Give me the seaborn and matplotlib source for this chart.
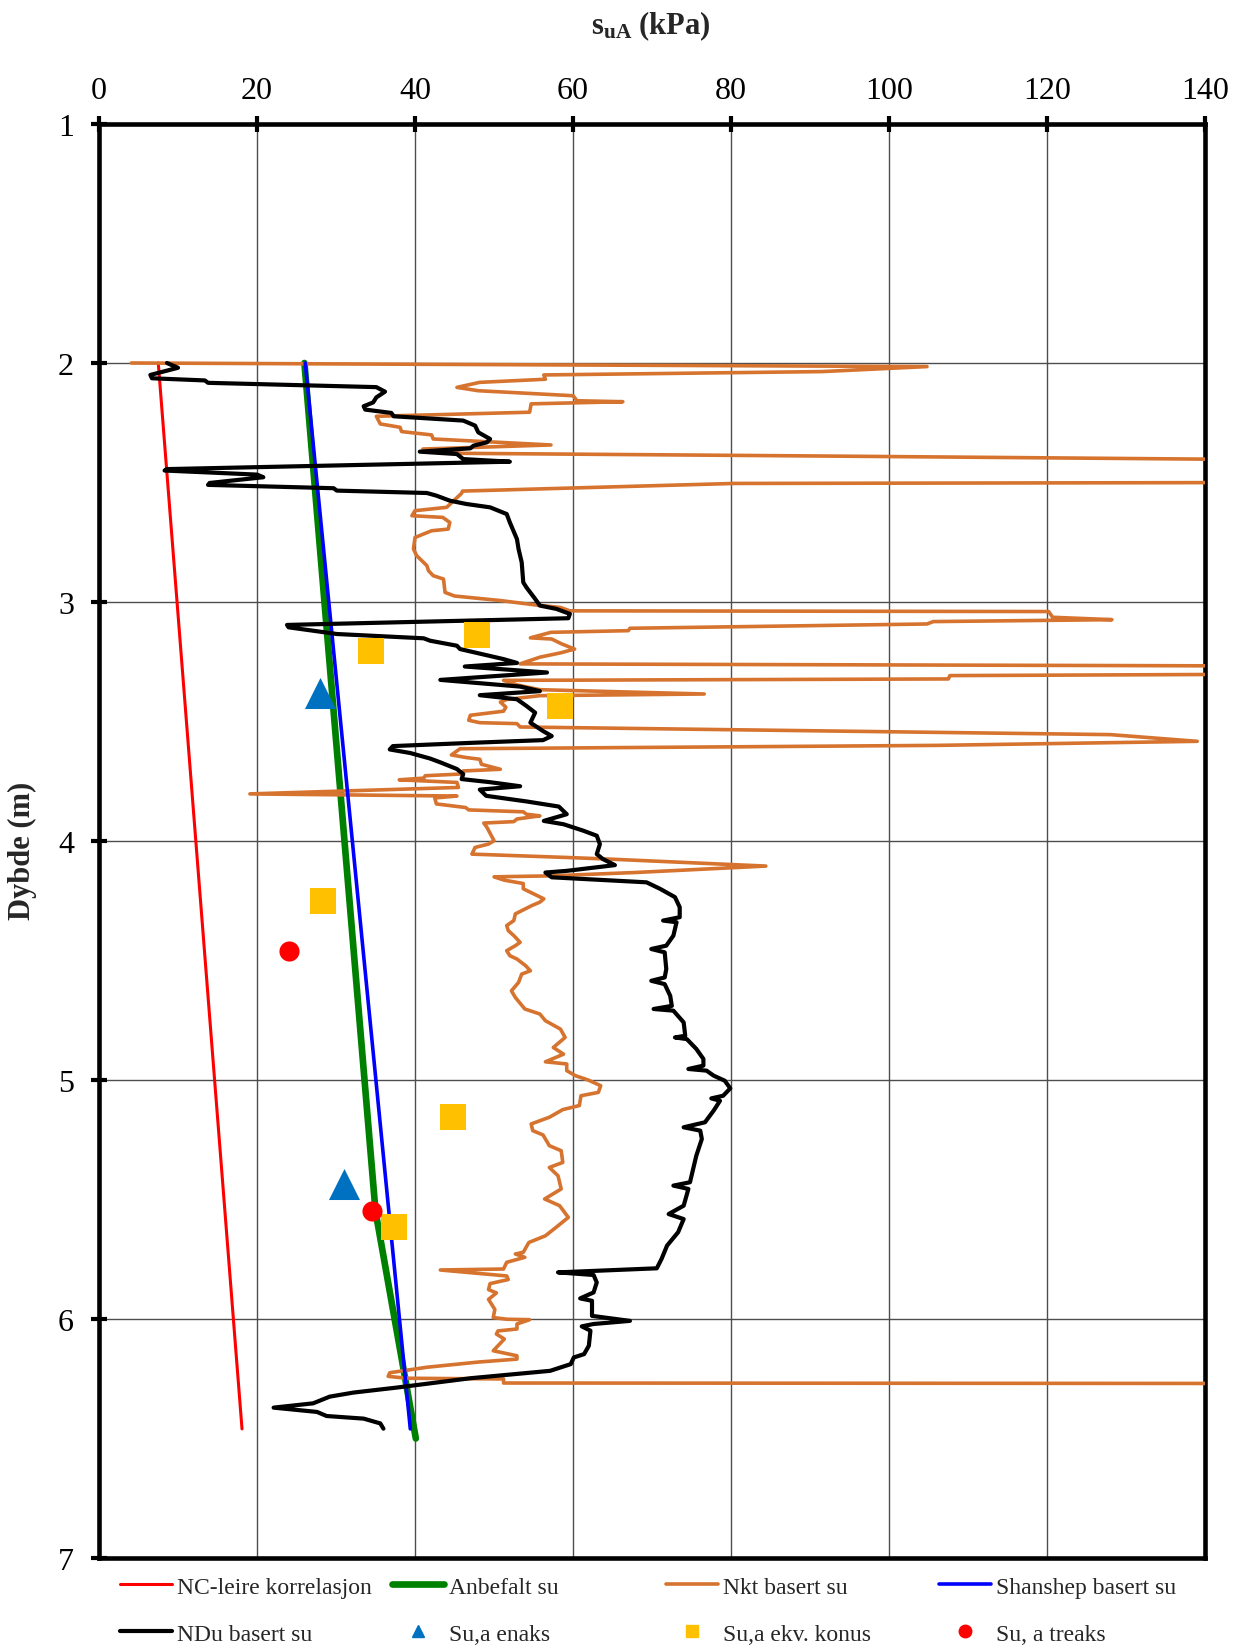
import matplotlib
matplotlib.use("Agg")
import matplotlib.pyplot as plt
import seaborn as sns
import pandas as pd
from matplotlib.lines import Line2D

# NDu basert su (black CPTU profile): su in kPa, depth in m
ndu_su = [8.6, 10.0, 6.5, 6.7, 13.4, 13.8, 35.1, 36.2, 35.1, 34.7, 33.5, 33.7, 37.0, 37.3,
          46.1, 47.6, 48.0, 49.5, 49.1, 47.4, 47.0, 40.6, 45.3, 46.1, 52.0, 8.6, 8.3, 20.0,
          20.8, 14.0, 13.8, 29.7, 30.1, 41.5, 42.7, 44.4, 46.5, 49.5, 51.6, 52.0, 52.9, 53.1,
          53.5, 53.7, 54.1, 55.2, 55.8, 57.9, 59.6, 59.4, 23.8, 24.0, 30.1, 41.1, 41.9, 45.3,
          45.7, 51.2, 52.9, 46.3, 56.7, 43.2, 53.3, 55.8, 48.2, 52.9, 54.1, 55.2, 54.6, 56.2,
          57.3, 56.2, 47.4, 37.2, 36.8, 39.4, 41.9, 43.2, 45.3, 46.1, 45.9, 49.5, 53.3, 48.2,
          49.0, 54.2, 58.2, 59.2, 56.3, 58.8, 61.3, 63.0, 63.4, 63.0, 63.8, 65.3, 59.2, 56.5,
          57.3, 69.3, 71.0, 72.9, 73.5, 73.5, 71.4, 73.1, 72.7, 71.8, 69.9, 71.6, 71.8, 71.6,
          69.9, 71.6, 72.3, 72.5, 70.2, 72.7, 74.0, 74.2, 72.9, 74.4, 75.6, 76.5, 76.5, 74.6,
          76.9, 77.8, 79.2, 79.9, 79.0, 77.5, 78.6, 77.8, 76.7, 74.0, 76.1, 76.3, 75.6, 75.2,
          74.8, 72.7, 74.6, 74.0, 72.1, 74.0, 73.3, 71.9, 71.2, 70.6, 58.1, 62.6, 63.0, 62.6,
          60.9, 62.4, 62.4, 67.2, 62.6, 61.1, 62.2, 62.0, 61.4, 60.1, 59.7, 57.1, 47.0, 42.7,
          37.7, 32.2, 29.2, 27.1, 22.1, 27.6, 28.8, 33.5, 35.6, 36.0]
ndu_depth = [2.000, 2.020, 2.050, 2.064, 2.073, 2.083, 2.101, 2.120, 2.144, 2.165, 2.181, 2.195,
             2.209, 2.223, 2.241, 2.262, 2.290, 2.318, 2.332, 2.346, 2.357, 2.371, 2.381, 2.402,
             2.413, 2.444, 2.450, 2.467, 2.478, 2.502, 2.510, 2.524, 2.534, 2.544, 2.555, 2.576,
             2.590, 2.604, 2.632, 2.667, 2.737, 2.778, 2.834, 2.918, 2.939, 2.987, 3.015, 3.029,
             3.050, 3.068, 3.096, 3.106, 3.134, 3.152, 3.162, 3.183, 3.197, 3.239, 3.255, 3.270,
             3.295, 3.326, 3.354, 3.373, 3.390, 3.407, 3.435, 3.463, 3.505, 3.540, 3.561, 3.578,
             3.589, 3.603, 3.617, 3.632, 3.655, 3.671, 3.699, 3.720, 3.741, 3.754, 3.771, 3.785,
             3.811, 3.835, 3.856, 3.888, 3.916, 3.930, 3.957, 3.978, 4.013, 4.055, 4.076, 4.101,
             4.125, 4.132, 4.152, 4.173, 4.200, 4.235, 4.277, 4.319, 4.333, 4.340, 4.396, 4.438,
             4.452, 4.466, 4.536, 4.571, 4.585, 4.599, 4.648, 4.690, 4.703, 4.710, 4.759, 4.815,
             4.822, 4.829, 4.870, 4.912, 4.940, 4.954, 4.961, 4.982, 5.003, 5.035, 5.066, 5.077,
             5.087, 5.128, 5.177, 5.198, 5.212, 5.247, 5.317, 5.372, 5.428, 5.442, 5.456, 5.526,
             5.561, 5.582, 5.637, 5.693, 5.749, 5.788, 5.805, 5.816, 5.847, 5.889, 5.914, 5.924,
             5.987, 6.008, 6.021, 6.031, 6.049, 6.112, 6.147, 6.161, 6.189, 6.217, 6.248, 6.266,
             6.287, 6.308, 6.325, 6.353, 6.371, 6.389, 6.406, 6.417, 6.437, 6.459]

# Nkt basert su (orange profile), the spikes run past the 140 kPa edge
nkt_su = [4.1, 104.8, 91.5, 56.3, 56.5, 48.2, 45.3, 48.0, 60.0, 60.5, 66.3, 54.7, 54.5, 35.1,
          35.6, 38.1, 38.3, 42.1, 42.3, 57.2, 41.0, 46.0, 94.4, 150.0, 150.0, 80.4, 46.0, 45.9,
          44.0, 40.0, 39.6, 43.5, 44.4, 44.2, 42.1, 40.0, 39.8, 40.2, 41.5, 41.7, 42.3, 43.6,
          43.8, 45.0, 50.8, 55.4, 58.4, 59.6, 120.2, 120.7, 128.2, 105.6, 104.8, 67.2, 67.0,
          57.2, 54.6, 57.3, 58.6, 60.2, 58.4, 55.8, 53.3, 150.0, 150.0, 107.7, 107.5, 51.2,
          52.9, 55.8, 76.6, 55.8, 51.6, 50.8, 51.5, 51.2, 48.7, 47.0, 46.8, 48.2, 52.9, 53.3,
          128.0, 139.0, 106.0, 45.7, 44.6, 46.5, 48.2, 48.4, 50.8, 46.1, 45.7, 41.3, 41.1, 38.0,
          45.3, 45.5, 19.1, 45.3, 42.5, 42.7, 46.4, 46.8, 53.7, 54.1, 55.8, 52.9, 52.5, 48.7,
          49.1, 50.0, 49.3, 47.6, 47.2, 59.2, 64.7, 84.4, 67.8, 57.1, 50.0, 51.3, 53.7, 53.7,
          56.3, 55.8, 54.8, 52.7, 52.5, 51.6, 51.8, 52.5, 53.3, 52.7, 51.6, 52.0, 52.9, 54.0,
          54.6, 53.5, 53.1, 52.2, 52.7, 53.9, 55.8, 56.5, 58.4, 59.0, 57.5, 58.8, 56.5, 59.2,
          59.2, 60.3, 61.9, 63.5, 63.2, 61.0, 60.8, 58.7, 57.0, 54.7, 54.9, 56.2, 57.0, 58.5,
          58.7, 57.0, 58.1, 58.5, 56.4, 58.3, 59.4, 58.1, 56.5, 54.4, 53.7, 52.7, 53.9, 51.6,
          51.2, 43.2, 51.6, 51.8, 49.5, 49.3, 50.3, 49.3, 50.1, 49.9, 51.6, 54.5, 52.9, 52.9,
          50.5, 50.3, 51.3, 49.9, 52.9, 52.9, 48.1, 41.5, 36.8, 36.6, 38.9, 51.2, 51.2, 150.0]
nkt_depth = [2.000, 2.015, 2.036, 2.050, 2.068, 2.081, 2.102, 2.116, 2.137, 2.158, 2.162, 2.171,
             2.206, 2.223, 2.255, 2.269, 2.287, 2.301, 2.318, 2.343, 2.360, 2.378, 2.390, 2.405,
             2.500, 2.504, 2.536, 2.545, 2.604, 2.618, 2.639, 2.646, 2.667, 2.695, 2.702, 2.730,
             2.778, 2.806, 2.848, 2.869, 2.890, 2.904, 2.960, 2.975, 2.994, 3.013, 3.023, 3.037,
             3.040, 3.064, 3.074, 3.082, 3.092, 3.110, 3.120, 3.127, 3.150, 3.155, 3.176, 3.197,
             3.213, 3.231, 3.259, 3.268, 3.302, 3.308, 3.322, 3.328, 3.347, 3.367, 3.385, 3.392,
             3.408, 3.419, 3.440, 3.457, 3.467, 3.474, 3.495, 3.505, 3.509, 3.523, 3.555, 3.583,
             3.600, 3.614, 3.640, 3.651, 3.658, 3.679, 3.700, 3.707, 3.720, 3.727, 3.737, 3.744,
             3.755, 3.776, 3.803, 3.812, 3.820, 3.845, 3.860, 3.870, 3.878, 3.888, 3.895, 3.908,
             3.919, 3.925, 3.943, 3.999, 4.013, 4.027, 4.055, 4.069, 4.076, 4.105, 4.132, 4.146,
             4.150, 4.164, 4.178, 4.200, 4.242, 4.256, 4.270, 4.305, 4.333, 4.354, 4.375, 4.396,
             4.424, 4.438, 4.459, 4.480, 4.494, 4.522, 4.543, 4.557, 4.592, 4.627, 4.655, 4.703,
             4.724, 4.752, 4.787, 4.822, 4.864, 4.892, 4.924, 4.933, 4.961, 4.982, 5.000, 5.024,
             5.052, 5.066, 5.107, 5.124, 5.156, 5.184, 5.212, 5.230, 5.275, 5.296, 5.345, 5.366,
             5.401, 5.456, 5.498, 5.526, 5.575, 5.610, 5.652, 5.680, 5.721, 5.728, 5.742, 5.763,
             5.791, 5.795, 5.820, 5.835, 5.852, 5.877, 5.891, 5.918, 5.960, 5.994, 6.001, 6.003,
             6.021, 6.042, 6.050, 6.063, 6.084, 6.133, 6.154, 6.168, 6.180, 6.202, 6.225, 6.240,
             6.248, 6.251, 6.268, 6.270]

# straight correlation lines
nc_su = [7.5, 18.1]
nc_depth = [2.0, 6.46]
shansep_su = [26.1, 39.4]
shansep_depth = [2.0, 6.46]
anbefalt_su = [26.0, 35.0, 40.1]
anbefalt_depth = [2.0, 5.55, 6.5]

# lab results
enaks_su = [28.0, 31.0]
enaks_depth = [3.38, 5.435]
konus_su = [34.4, 47.8, 58.4, 28.4, 44.8, 37.3]
konus_depth = [3.205, 3.14, 3.435, 4.25, 5.155, 5.615]
treaks_su = [24.0, 34.6]
treaks_depth = [4.46, 5.55]

C_NC = "#FF0000"
C_ANB = "#008000"
C_NKT = "#D6732F"
C_SHA = "#0000FF"
C_NDU = "#000000"
C_ENAKS = "#0070C0"
C_KONUS = "#FFC000"
C_TREAKS = "#FF0000"

sns.set_theme(style="white")
plt.rcParams["font.family"] = ["Liberation Serif", "DejaVu Serif"]
plt.rcParams["mathtext.fontset"] = "custom"
plt.rcParams["mathtext.rm"] = "Liberation Serif"
plt.rcParams["mathtext.it"] = "Liberation Serif:italic"
plt.rcParams["mathtext.bf"] = "Liberation Serif:bold"

fig = plt.figure(figsize=(12.47, 16.49), dpi=100)
ax = fig.add_axes([0.0794, 0.0546, 0.887, 0.8696])


def profile(su, depth):
    return pd.DataFrame({"su": su, "depth": depth})


sns.lineplot(data=profile(nc_su, nc_depth), x="su", y="depth", sort=False, estimator=None,
             color=C_NC, lw=2.2, ax=ax, zorder=3)
sns.lineplot(data=profile(anbefalt_su, anbefalt_depth), x="su", y="depth", sort=False,
             estimator=None, color=C_ANB, lw=4.8, ax=ax, zorder=3,
             solid_capstyle="round")
sns.lineplot(data=profile(nkt_su, nkt_depth), x="su", y="depth", sort=False, estimator=None,
             color=C_NKT, lw=2.6, ax=ax, zorder=3)
sns.lineplot(data=profile(shansep_su, shansep_depth), x="su", y="depth", sort=False,
             estimator=None, color=C_SHA, lw=2.6, ax=ax, zorder=4)
sns.lineplot(data=profile(ndu_su, ndu_depth), x="su", y="depth", sort=False, estimator=None,
             color=C_NDU, lw=3.0, ax=ax, zorder=4)

sns.scatterplot(x=enaks_su, y=enaks_depth, marker="^", s=500, color=C_ENAKS, linewidth=0,
                ax=ax, zorder=6)
sns.scatterplot(x=konus_su, y=konus_depth, marker="s", s=350, color=C_KONUS, linewidth=0,
                ax=ax, zorder=6)
sns.scatterplot(x=treaks_su, y=treaks_depth, marker="o", s=210, color=C_TREAKS, linewidth=0,
                ax=ax, zorder=6)

ax.set_xlim(0, 140)
ax.set_ylim(7, 1)
ax.set_xticks(range(0, 141, 20))
ax.set_yticks(range(1, 8))
ax.set_xlabel("")
ax.set_ylabel("")
ax.xaxis.tick_top()
ax.grid(True, color="#4d4d4d", lw=1.0)
ax.set_axisbelow(True)
for sp in ax.spines.values():
    sp.set_visible(True)
    sp.set_color("black")
    sp.set_linewidth(3.3)
ax.tick_params(axis="x", direction="inout", length=12, width=3, colors="black",
               labelsize=23, pad=8, top=True, bottom=False, labeltop=True, labelbottom=False)
ax.tick_params(axis="y", direction="inout", length=12, width=3, colors="black",
               labelsize=23, pad=12, left=True, right=False)

fig.text(0.522, 0.984, r"$\mathbf{s_{uA}}$ (kPa)", ha="center", va="center",
         fontsize=22, fontweight="bold")
fig.text(0.0184, 0.484, "Dybde (m)", ha="center", va="center", rotation=90,
         fontsize=22, fontweight="bold")

# legend laid out as a 4 x 2 grid below the plot
entries = [
    (Line2D([], [], color=C_NC, lw=2.2), "NC-leire korrelasjon", 0.0962, 0.037),
    (Line2D([], [], color=C_ANB, lw=4.8), "Anbefalt su", 0.3145, 0.037),
    (Line2D([], [], color=C_NKT, lw=2.6), "Nkt basert su", 0.5340, 0.037),
    (Line2D([], [], color=C_SHA, lw=2.6), "Shanshep basert su", 0.7530, 0.037),
    (Line2D([], [], color=C_NDU, lw=3.0), "NDu basert su", 0.0962, 0.0085),
    (Line2D([], [], color=C_ENAKS, marker="^", ls="", ms=9), "Su,a enaks", 0.3145, 0.0085),
    (Line2D([], [], color=C_KONUS, marker="s", ls="", ms=9), "Su,a ekv. konus", 0.5340, 0.0085),
    (Line2D([], [], color=C_TREAKS, marker="o", ls="", ms=9), "Su, a treaks", 0.7530, 0.0085),
]
for handle, text, lx, ly in entries:
    fig.legend(handles=[handle], labels=[text], loc="center left", bbox_to_anchor=(lx, ly),
               frameon=False, fontsize=17, handlelength=2.2, handletextpad=0.2,
               borderpad=0, borderaxespad=0)

fig.savefig("out.png", dpi=100)
